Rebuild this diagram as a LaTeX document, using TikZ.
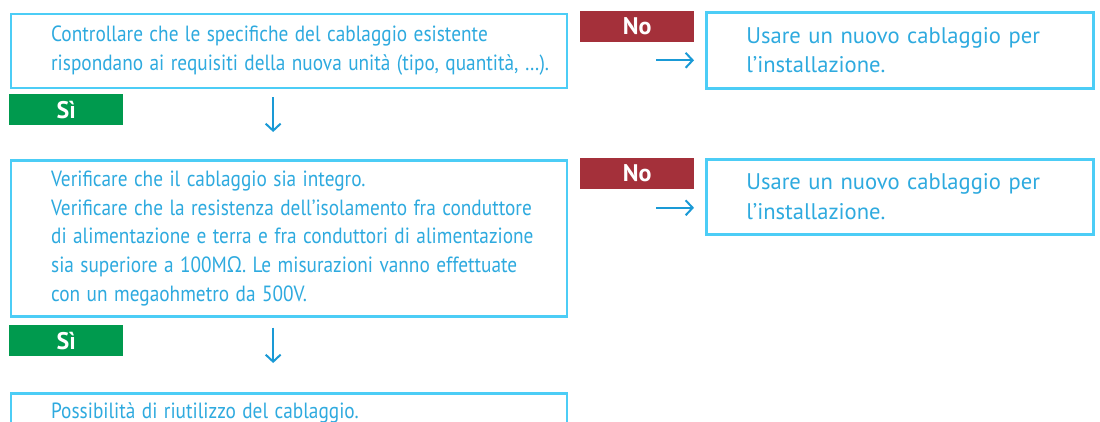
\documentclass[tikz,border=0pt]{standalone}
\usepackage{fontspec}
\setmainfont{PT Sans}
\newfontfamily\leftfont{PT Sans}[WordSpace=0.8]
\newfontfamily\greekfont{Open Sans}
\usepackage{tikz}
\usetikzlibrary{arrows.meta}
\usetikzlibrary{positioning}
\frenchspacing

\definecolor{boxline}{HTML}{4CCDF6}
\definecolor{boxtext}{HTML}{2EAADF}
\definecolor{flowcol}{HTML}{1A9AD6}
\definecolor{sigreen}{HTML}{009A4E}
\definecolor{nored}{HTML}{A4303A}

\begin{document}
\begin{tikzpicture}[x=1pt,y=-1pt,
        stepbox/.style={draw=boxline, line width=2.6pt, anchor=north west,
            inner ysep=0pt, align=left, text=boxtext},
        leftbox/.style={stepbox, xscale=0.8775, transform shape, inner xsep=0pt,
            minimum width=633.6pt, text width=633.6pt,
            execute at begin node={\leftskip=45.58pt},
            font=\leftfont\fontsize{22}{28.7}\selectfont},
        rightbox/.style={stepbox, inner xsep=40pt, minimum width=387pt, text width=307pt,
            font=\fontsize{22.6}{29.5}\selectfont},
        tag/.style={anchor=north west, minimum width=114pt, minimum height=31pt,
            inner sep=0pt, text=white, font=\bfseries\fontsize{24}{24}\selectfont},
        flow/.style={draw=flowcol, line width=2pt, -{Straight Barb[length=7pt,width=15pt,line width=2pt]}}]
    \clip (0,0) rectangle (1100,421);
    \fill[white] (0,0) rectangle (1100,421);
    \node[leftbox, minimum height=74pt] (chk) at (10,12.5)
        {Controllare che le specifiche del cablaggio esistente\\
         rispondano ai requisiti della nuova unità (tipo, quantità, \dots).};
    \node[leftbox, minimum height=156pt] (ver) at (10,159)
        {Verificare che il cablaggio sia integro.\\
         Verificare che la resistenza dell’isolamento fra conduttore\\
         di alimentazione e terra e fra conduttori di alimentazione\\
         sia superiore a 100M{\greekfont Ω}. Le misurazioni vanno effettuate\\
         con un megaohmetro da 500V.};
    \node[leftbox, minimum height=40pt] (reuse) at (10,392)
        {Possibilità di riutilizzo del cablaggio.};
    \node[rightbox, minimum height=76pt] (new1) at (705,11)
        {Usare un nuovo cablaggio per\\ l’installazione.};
    \node[rightbox, minimum height=75pt] (new2) at (705,158)
        {Usare un nuovo cablaggio per\\ l’installazione.};
    \node[tag, fill=sigreen] (si1) at (9,94) {Sì};
    \node[tag, fill=sigreen] (si2) at (9,325) {Sì};
    \node[tag, fill=nored] (no1) at (580,11) {No};
    \node[tag, fill=nored] (no2) at (580,158) {No};
    \draw[flow] ([xshift=-16pt,yshift=-8pt]chk.south) -- ([xshift=-16pt,yshift=27pt]ver.north);
    \draw[flow] ([xshift=-16pt,yshift=-10pt]ver.south) -- ([xshift=-16pt,yshift=29pt]reuse.north);
    \draw[flow] ([xshift=-49pt,yshift=-10pt]new1.west) -- ([xshift=-11pt,yshift=-10pt]new1.west);
    \draw[flow] ([xshift=-49pt,yshift=-11pt]new2.west) -- ([xshift=-11pt,yshift=-11pt]new2.west);
\end{tikzpicture}
\end{document}
